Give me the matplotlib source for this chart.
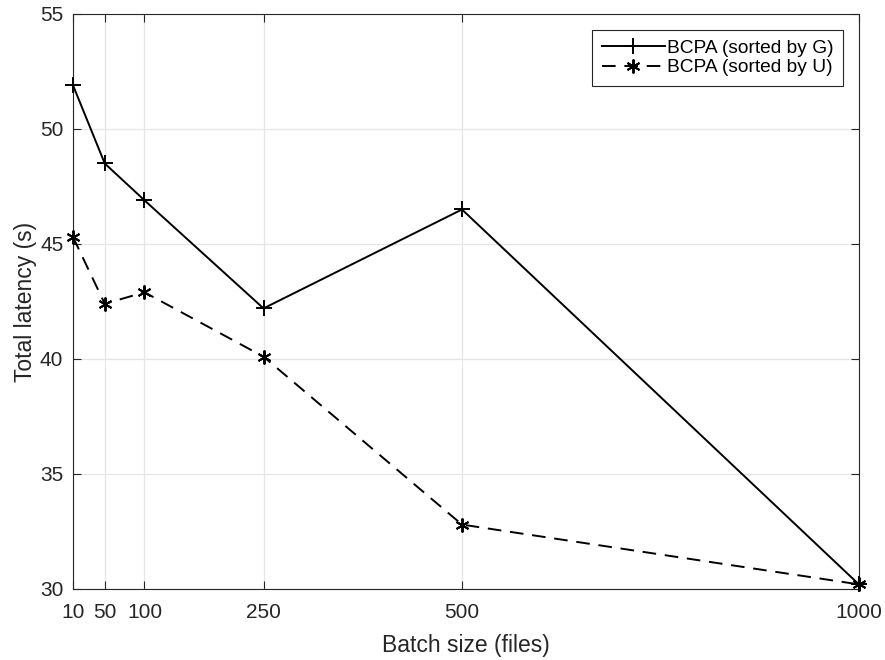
import matplotlib.pyplot as plt
import numpy as np

plt.rcParams['font.family'] = ['Liberation Sans', 'DejaVu Sans']

batch = [10, 50, 100, 250, 500, 1000]
lat_g = [51.9, 48.5, 46.9, 42.2, 46.5, 30.2]
lat_u = [45.3, 42.4, 42.9, 40.1, 32.8, 30.2]

fig = plt.figure(figsize=(8.85, 6.6), dpi=100)
ax = fig.add_axes([0.0825, 0.1076, 0.888, 0.8712])

ax.plot(batch, lat_g, '-', color='black', marker='+', markersize=11, markeredgewidth=1.4,
        linewidth=1.4, clip_on=False, zorder=3, label='BCPA (sorted by G)')
ax.plot(batch, lat_u, '--', color='black', marker=(6, 2, 0), markersize=10, markeredgewidth=1.4,
        linewidth=1.4, dashes=(7, 4.5), clip_on=False, zorder=3, label='BCPA (sorted by U)')

ax.set_xlim(10, 1000)
ax.set_ylim(30, 55)
ax.set_xticks(batch)
ax.set_yticks(np.arange(30, 56, 5))
ax.grid(True, color='#e6e6e6', linewidth=0.9)
ax.set_axisbelow(True)
ax.tick_params(direction='in', length=6, width=0.8, colors='#262626', labelsize=15,
               top=True, right=True)
ax.tick_params(axis='x', pad=10)
ax.tick_params(axis='y', pad=7)
for s in ax.spines.values():
    s.set_color('#262626')
    s.set_linewidth(0.8)

ax.set_xlabel('Batch size (files)', fontsize=16.5, color='#262626', labelpad=9)
ax.set_ylabel('Total latency (s)', fontsize=16.5, color='#262626', labelpad=2)

leg = ax.legend(loc='upper right', fontsize=13.8, fancybox=False, edgecolor='#262626',
                framealpha=1, handlelength=3.3, handletextpad=0.1, labelspacing=0.1,
                borderpad=0.5, borderaxespad=0.0, bbox_to_anchor=(843 / 885, 1 - 30 / 660),
                bbox_transform=fig.transFigure)
leg.get_frame().set_linewidth(0.8)

fig.savefig('out.png', dpi=100)
